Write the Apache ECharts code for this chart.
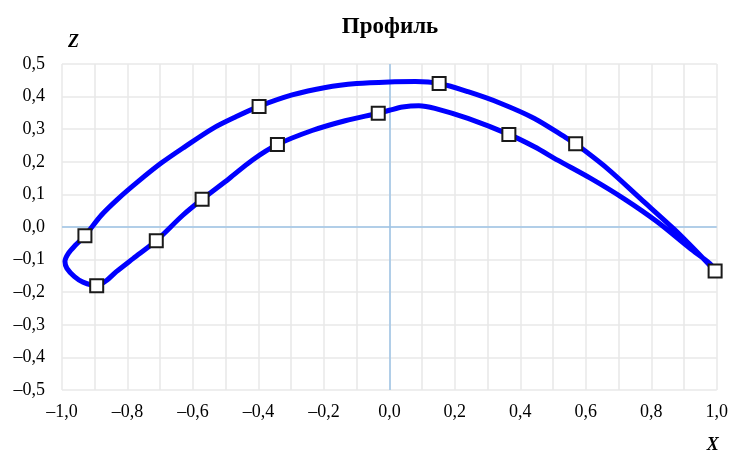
<!DOCTYPE html>
<html>
<head>
<meta charset="utf-8">
<script src="https://cdn.jsdelivr.net/npm/echarts@6/dist/echarts.min.js"></script>
<style>html,body{margin:0;padding:0;background:#fff}#c{width:731px;height:454px}</style>
</head>
<body>
<div id="c"></div>
<script>
// Pressure side, from trailing edge to leading edge, then round the nose
const lowerX = [0.995, 0.979, 0.919, 0.818, 0.716, 0.615, 0.514, 0.443, 0.365, 0.240, 0.139, 0.090, 0.040, 0.000, -0.034, -0.135, -0.236, -0.342, -0.419, -0.489, -0.572, -0.631, -0.712, -0.783, -0.834, -0.864, -0.894, -0.936, -0.962, -0.985, -0.991, -0.980, -0.960, -0.930];
const lowerZ = [-0.135, -0.112, -0.066, 0.016, 0.087, 0.149, 0.205, 0.246, 0.284, 0.333, 0.364, 0.372, 0.368, 0.358, 0.349, 0.326, 0.296, 0.253, 0.205, 0.149, 0.085, 0.036, -0.042, -0.097, -0.137, -0.164, -0.180, -0.169, -0.152, -0.127, -0.105, -0.080, -0.057, -0.027];
// Suction side, from leading edge to trailing edge
const upperX = [-0.930, -0.880, -0.828, -0.768, -0.697, -0.625, -0.540, -0.469, -0.398, -0.297, -0.195, -0.100, 0.000, 0.080, 0.152, 0.240, 0.341, 0.443, 0.544, 0.569, 0.666, 0.767, 0.868, 0.939, 0.995];
const upperZ = [-0.027, 0.036, 0.087, 0.139, 0.196, 0.246, 0.302, 0.338, 0.370, 0.405, 0.428, 0.440, 0.445, 0.446, 0.440, 0.415, 0.379, 0.333, 0.271, 0.255, 0.179, 0.087, -0.005, -0.076, -0.135];
// Marked points
const markerX = [-0.930, -0.894, -0.712, -0.572, -0.398, -0.342, -0.034, 0.152, 0.365, 0.569, 0.995];
const markerZ = [-0.027, -0.180, -0.042, 0.085, 0.370, 0.253, 0.349, 0.440, 0.284, 0.255, -0.135];

const title = 'Профиль';
const xName = 'X';
const zName = 'Z';

const profile = lowerX.map((x, i) => [x, lowerZ[i]])
  .concat(upperX.slice(1).map((x, i) => [x, upperZ[i + 1]]));
const markers = markerX.map((x, i) => [x, markerZ[i]]);

const fmt = v => {
  const s = Math.abs(v).toFixed(1).replace('.', ',');
  return v < -1e-9 ? '\u2013' + s : s;
};
const font = '"Liberation Serif", "Times New Roman", serif';

const chart = echarts.init(document.getElementById('c'), null, {renderer: 'canvas'});
chart.setOption({
  animation: false,
  backgroundColor: '#fff',
  title: {
    text: title,
    left: 385,
    top: 11,
    textAlign: 'center',
    textStyle: {fontFamily: font, fontWeight: 'bold', fontSize: 23, color: '#000'}
  },
  grid: {left: 62, right: 11, top: 64, bottom: 62},
  xAxis: {
    type: 'value', min: -1, max: 1, interval: 0.2,
    name: xName, nameLocation: 'end', nameGap: -4,
    nameTextStyle: {fontFamily: font, fontWeight: 'bold', fontStyle: 'italic', fontSize: 18, color: '#000',
      verticalAlign: 'top', align: 'center', padding: [46, 0, 0, 0]},
    axisLine: {show: false, onZero: false}, axisTick: {show: false},
    axisLabel: {formatter: fmt, fontFamily: font, fontSize: 18, color: '#000', margin: 13},
    splitLine: {show: true, lineStyle: {color: '#e8e8e8', width: 1.5}},
    minorTick: {show: false, splitNumber: 2},
    minorSplitLine: {show: true, lineStyle: {color: '#e8e8e8', width: 1.5}}
  },
  yAxis: {
    type: 'value', min: -0.5, max: 0.5, interval: 0.1,
    name: zName, nameLocation: 'end', nameGap: 22,
    nameTextStyle: {fontFamily: font, fontWeight: 'bold', fontStyle: 'italic', fontSize: 18, color: '#000',
      align: 'left', verticalAlign: 'middle', padding: [0, 0, 0, 6]},
    axisLine: {show: false, onZero: false}, axisTick: {show: false},
    axisLabel: {formatter: fmt, fontFamily: font, fontSize: 18, color: '#000', margin: 17,
      padding: [5, 0, 0, 0]},
    splitLine: {show: true, lineStyle: {color: '#e8e8e8', width: 1.5}}
  },
  series: [
    {
      type: 'line', data: profile, showSymbol: false, smooth: 0.3,
      lineStyle: {color: '#0000ff', width: 5}, z: 3,
      markLine: {
        silent: true, symbol: 'none', label: {show: false},
        lineStyle: {color: '#9dc3e6', width: 1.5, type: 'solid'},
        data: [{xAxis: 0}, {yAxis: 0}], z: 1
      }
    },
    {
      type: 'scatter', data: markers, symbol: 'rect', symbolSize: 13,
      itemStyle: {color: '#fff', opacity: 1, borderColor: '#1a1a1a', borderWidth: 2}, z: 5
    }
  ]
});
</script>
</body>
</html>
